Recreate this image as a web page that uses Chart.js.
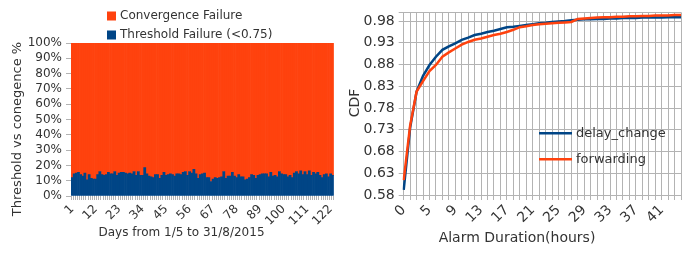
<!DOCTYPE html>
<html>
<head>
<meta charset="utf-8">
<script src="https://cdn.jsdelivr.net/npm/chart.js@4.4.0/dist/chart.umd.min.js"></script>
<style>
  html, body { margin: 0; padding: 0; background: #fff; }
  #wrap { position: relative; width: 697px; height: 253px; }
  #failChart { position: absolute; left: 0; top: 0; }
  #cdfChart { position: absolute; left: 345px; top: 0; }
</style>
</head>
<body>
<div id="wrap">
  <canvas id="failChart" width="345" height="253"></canvas>
  <canvas id="cdfChart" width="352" height="253"></canvas>
</div>
<script>
// Left chart: daily share of failures, 1/5 to 31/8/2015 (123 days)
const days = Array.from({ length: 123 }, (_, i) => String(i + 1));

const thresholdPct = [
  12, 14.5, 15, 15.5, 14, 13, 15, 10.5, 14, 11.5,
  11, 11, 14, 16, 14, 13.5, 14, 15.5, 14.5, 14.5,
  16, 13.5, 15, 15.5, 15.5, 15, 14.5, 15, 14.5, 16,
  13.5, 16, 13.5, 13.5, 18.5, 14.5, 13, 12.5, 12, 14,
  14, 11.5, 13.5, 15.5, 13.5, 14, 14.5, 14, 13, 14.5,
  14.5, 14, 15.5, 16, 13.5, 16, 15, 17.5, 14.5, 11.5,
  14, 14.5, 15, 12, 12, 9.5, 11, 12, 11.5, 12,
  12.5, 16, 11.5, 13, 13, 15.5, 13, 12, 14, 12.5,
  12.5, 10.5, 11, 12, 14, 13.5, 11.5, 13.5, 14, 14.5,
  14.5, 14.5, 12.5, 15.5, 13, 13.5, 12.5, 16, 14.5, 14,
  14, 12.5, 13.5, 12, 15, 16, 14.5, 16.5, 14, 16,
  14, 16.5, 13.5, 15.5, 14.5, 15.5, 13.5, 12, 14, 14.5,
  12.5, 14.5, 13.5
];

const convergencePct = [
  88, 85.5, 85, 84.5, 86, 87, 85, 89.5, 86, 88.5,
  89, 89, 86, 84, 86, 86.5, 86, 84.5, 85.5, 85.5,
  84, 86.5, 85, 84.5, 84.5, 85, 85.5, 85, 85.5, 84,
  86.5, 84, 86.5, 86.5, 81.5, 85.5, 87, 87.5, 88, 86,
  86, 88.5, 86.5, 84.5, 86.5, 86, 85.5, 86, 87, 85.5,
  85.5, 86, 84.5, 84, 86.5, 84, 85, 82.5, 85.5, 88.5,
  86, 85.5, 85, 88, 88, 90.5, 89, 88, 88.5, 88,
  87.5, 84, 88.5, 87, 87, 84.5, 87, 88, 86, 87.5,
  87.5, 89.5, 89, 88, 86, 86.5, 88.5, 86.5, 86, 85.5,
  85.5, 85.5, 87.5, 84.5, 87, 86.5, 87.5, 84, 85.5, 86,
  86, 87.5, 86.5, 88, 85, 84, 85.5, 83.5, 86, 84,
  86, 83.5, 86.5, 84.5, 85.5, 84.5, 86.5, 88, 86, 85.5,
  87.5, 85.5, 86.5
];

// Right chart: CDF of alarm duration
const durationLabels = [
  '0', '2', '3', '4', '5', '6', '7', '8', '9', '10', '11',
  '12', '13', '14', '15', '16', '17', '18', '19', '20', '21', '22',
  '23', '24', '25', '26', '27', '28', '29', '30', '31', '32', '33',
  '34', '35', '36', '37', '38', '39', '40', '41', '42', '43', '44'
];

const delayChange = [
  0.592, 0.735, 0.818, 0.854, 0.879, 0.898, 0.914, 0.922, 0.929, 0.937, 0.942,
  0.948, 0.951, 0.955, 0.958, 0.962, 0.966, 0.967, 0.969, 0.971, 0.973, 0.975,
  0.976, 0.978, 0.979, 0.980, 0.982, 0.983, 0.984, 0.984, 0.985, 0.985, 0.986,
  0.986, 0.987, 0.987, 0.987, 0.988, 0.988, 0.988, 0.988, 0.989, 0.989, 0.989
];

const forwarding = [
  0.614, 0.740, 0.818, 0.842, 0.865, 0.879, 0.898, 0.908, 0.917, 0.926, 0.932,
  0.937, 0.940, 0.944, 0.948, 0.951, 0.955, 0.960, 0.966, 0.968, 0.971, 0.973,
  0.974, 0.975, 0.976, 0.977, 0.978, 0.985, 0.986, 0.987, 0.988, 0.989, 0.989,
  0.990, 0.990, 0.991, 0.991, 0.992, 0.992, 0.993, 0.993, 0.993, 0.994, 0.994
];

const cdfTicks = [0.58, 0.63, 0.68, 0.73, 0.78, 0.83, 0.88, 0.93, 0.98];

const BLUE = '#004586';
const ORANGE = '#ff420e';
const GRID = '#b3b3b3';
const TEXT = '#333';

Chart.defaults.font.family = '"DejaVu Sans", sans-serif';
Chart.defaults.color = TEXT;

// legend and axis titles drawn by hand so they sit where the original puts them
const extrasPlugin = {
    id: 'extras',
    afterDraw(chart, args, opts) {
        const ctx = chart.ctx;
        ctx.save();
        ctx.textBaseline = 'middle';

        const lg = opts.legend;
        if (lg) {
            ctx.font = lg.fontSize + 'px "DejaVu Sans"';
            ctx.textAlign = 'left';
            lg.order.forEach((di, row) => {
                const ds = chart.data.datasets[di];
                const y = lg.y + row * lg.rowHeight;
                if (lg.marker === 'line') {
                    ctx.strokeStyle = ds.borderColor;
                    ctx.lineWidth = ds.borderWidth;
                    ctx.beginPath();
                    ctx.moveTo(lg.x, y);
                    ctx.lineTo(lg.x + lg.markerSize, y);
                    ctx.stroke();
                } else {
                    ctx.fillStyle = ds.backgroundColor;
                    ctx.fillRect(lg.x, y - lg.markerSize / 2, lg.markerSize, lg.markerSize);
                }
                ctx.fillStyle = TEXT;
                ctx.fillText(ds.label, lg.textX, y);
            });
        }

        (opts.titles || []).forEach(t => {
            ctx.save();
            ctx.font = t.fontSize + 'px "DejaVu Sans"';
            ctx.fillStyle = TEXT;
            ctx.textAlign = 'center';
            ctx.translate(t.x, t.y);
            if (t.rotate) ctx.rotate(t.rotate);
            ctx.fillText(t.text, 0, 0);
            ctx.restore();
        });

        ctx.restore();
    }
};

new Chart(document.getElementById('failChart'), {
    type: 'bar',
    data: {
        labels: days,
        datasets: [{
            label: 'Threshold Failure (<0.75)',
            data: thresholdPct,
            backgroundColor: BLUE,
            barPercentage: 1,
            categoryPercentage: 1,
        }, {
            label: 'Convergence Failure',
            data: convergencePct,
            backgroundColor: ORANGE,
            barPercentage: 1,
            categoryPercentage: 1,
        }]
    },
    options: {
        responsive: false,
        animation: false,
        layout: { padding: { top: 43, right: 8, left: 0, bottom: 0 } },
        plugins: {
            legend: { display: false },
            tooltip: { enabled: false },
            extras: {
                legend: { x: 107, y: 16, rowHeight: 19, marker: 'box', markerSize: 9, textX: 120, fontSize: 12, order: [1, 0] },
                titles: [
                    { text: 'Threshold vs conegence %', x: 18, y: 129, rotate: -Math.PI / 2, fontSize: 13 },
                    { text: 'Days from 1/5 to 31/8/2015', x: 181.5, y: 233, fontSize: 12 }
                ]
            }
        },
        scales: {
            x: {
                stacked: true,
                grid: { drawOnChartArea: false, color: GRID, tickLength: 4 },
                border: { display: false },
                ticks: {
                    autoSkip: false,
                    maxRotation: 45,
                    minRotation: 45,
                    padding: 2,
                    font: { size: 12 },
                    callback: (v, i) => i % 11 === 0 ? days[i] : ''
                },
                afterFit: s => { s.height = 57; }
            },
            y: {
                stacked: true,
                min: 0,
                max: 100,
                grid: { drawOnChartArea: false, color: GRID, tickLength: 5 },
                border: { display: false },
                ticks: {
                    autoSkip: false,
                    stepSize: 10,
                    padding: 4,
                    font: { size: 12 },
                    callback: v => v + '%'
                },
                afterFit: s => { s.width = 71; }
            }
        }
    },
    plugins: [extrasPlugin]
});

new Chart(document.getElementById('cdfChart'), {
    type: 'line',
    data: {
        labels: durationLabels,
        datasets: [{
            label: 'delay_change',
            data: delayChange,
            borderColor: BLUE,
            borderWidth: 2.5,
            pointRadius: 0,
            tension: 0,
            order: 1,
        }, {
            label: 'forwarding',
            data: forwarding,
            borderColor: ORANGE,
            borderWidth: 2.5,
            pointRadius: 0,
            tension: 0,
            order: 0,
        }]
    },
    options: {
        responsive: false,
        animation: false,
        layout: { padding: { top: 2, right: 16, left: 0, bottom: 0 } },
        plugins: {
            legend: { display: false },
            tooltip: { enabled: false },
            extras: {
                legend: { x: 194, y: 133.3, rowHeight: 26, marker: 'line', markerSize: 33, textX: 231, fontSize: 13, order: [0, 1] },
                titles: [
                    { text: 'CDF', x: 10, y: 103, rotate: -Math.PI / 2, fontSize: 14 },
                    { text: 'Alarm Duration(hours)', x: 172, y: 238.3, fontSize: 14 }
                ]
            }
        },
        scales: {
            x: {
                grid: { color: GRID, tickLength: 5 },
                border: { color: GRID },
                ticks: {
                    autoSkip: false,
                    maxRotation: 45,
                    minRotation: 45,
                    padding: 2,
                    font: { size: 14 },
                    callback: (v, i) => i % 4 === 0 ? durationLabels[i] : ''
                },
                afterFit: s => { s.height = 58; }
            },
            y: {
                min: 0.58,
                max: 1.0,
                afterBuildTicks: axis => {
                    axis.ticks = cdfTicks.concat([1.0]).map(v => ({ value: v }));
                },
                grid: { color: GRID, tickLength: 5 },
                border: { color: GRID },
                ticks: {
                    autoSkip: false,
                    padding: 4,
                    font: { size: 14 },
                    callback: v => v > 0.981 ? '' : v.toFixed(2)
                },
                afterFit: s => { s.width = 58.7; }
            }
        }
    },
    plugins: [extrasPlugin]
});
</script>
</body>
</html>
